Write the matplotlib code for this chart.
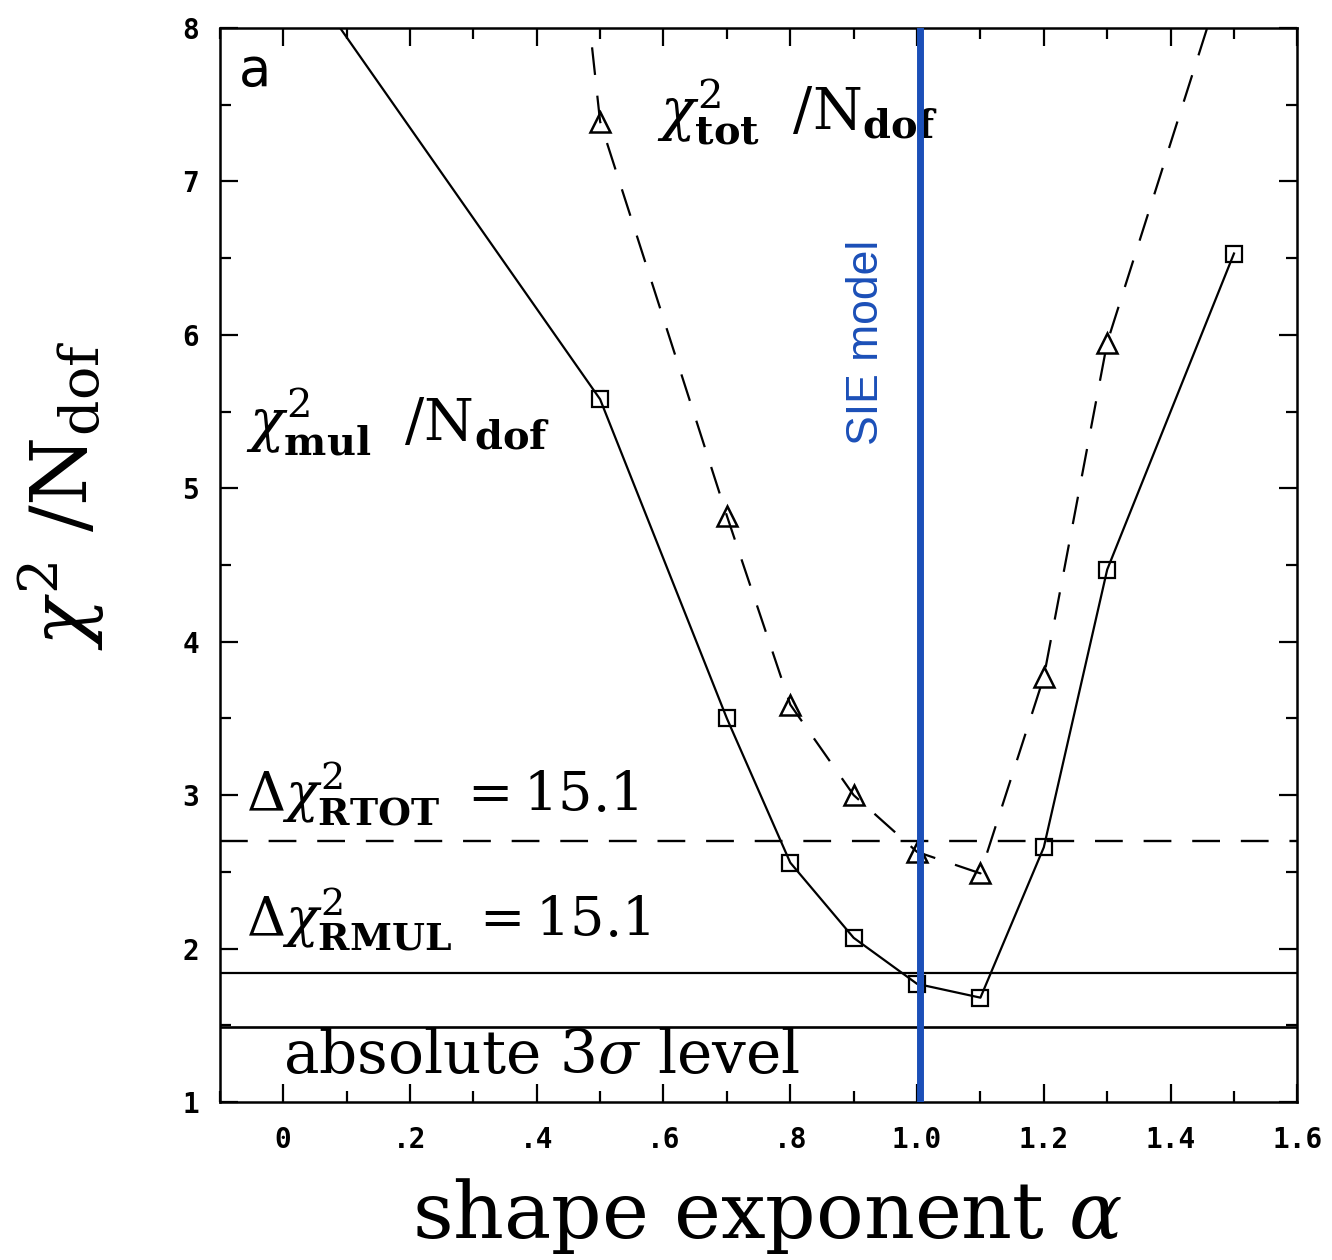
import numpy as np
import matplotlib
matplotlib.use('Agg')
import matplotlib.pyplot as plt

# chi^2 per dof vs shape exponent alpha
alpha_mul = [0.0, 0.5, 0.7, 0.8, 0.9, 1.0, 1.1, 1.2, 1.3, 1.5]
chi_mul = [8.53, 5.58, 3.50, 2.56, 2.07, 1.77, 1.68, 2.66, 4.47, 6.53]

alpha_tot = [0.4, 0.5, 0.7, 0.8, 0.9, 1.0, 1.1, 1.2, 1.3, 1.5]
chi_tot = [11.2, 7.39, 4.82, 3.59, 3.00, 2.63, 2.49, 3.77, 5.95, 8.55]

level_rtot = 2.70   # dashed horizontal
level_rmul = 1.84   # solid horizontal
level_abs = 1.49    # absolute 3 sigma
sie_alpha = 1.005

xticks = [0.0, 0.2, 0.4, 0.6, 0.8, 1.0, 1.2, 1.4, 1.6]
xticklabels = ['0', '.2', '.4', '.6', '.8', '1.0', '1.2', '1.4', '1.6']
yticks = [1, 2, 3, 4, 5, 6, 7, 8]

plt.rcParams['mathtext.fontset'] = 'dejavuserif'
plt.rcParams['font.family'] = ['DejaVu Serif']
plt.rcParams['lines.scale_dashes'] = False

fig = plt.figure(figsize=(13.32, 12.6), dpi=100)
ax = fig.add_axes([0.165, 0.1254, 0.809, 0.8524])

dash = (20, 15)
ax.plot(alpha_mul, chi_mul, color='black', lw=1.6, marker='s', ms=12,
        mfc='none', mec='black', mew=1.6)
ax.plot(alpha_tot, chi_tot, color='black', lw=1.6, dashes=dash, marker='^', ms=14,
        mfc='none', mec='black', mew=1.8)

ax.axhline(level_rtot, color='black', lw=1.7, dashes=dash)
ax.axhline(level_rmul, color='black', lw=1.6)
ax.axhline(level_abs, color='black', lw=1.9)

ax.axvline(sie_alpha, color='#1b4fb8', lw=5, zorder=5)
ax.text(0.92, 5.95, 'SIE model', rotation=90, color='#1b4fb8', fontsize=32,
        family='Liberation Sans', ha='center', va='center')

ax.set_xlim(-0.1, 1.6)
ax.set_ylim(1, 8)

ax.text(-0.07, 7.72, 'a', family='DejaVu Sans', fontsize=38, ha='left', va='center')
ax.text(0.59, 7.34, r'$\chi_{\mathbf{tot}}^{2}\;\ /\mathrm{N}_{\mathbf{dof}}$', fontsize=41,
        ha='left', va='baseline')
ax.text(-0.058, 5.31, r'$\chi_{\mathbf{mul}}^{2}\;\ /\mathrm{N}_{\mathbf{dof}}$', fontsize=41,
        ha='left', va='baseline')
ax.text(-0.058, 2.89, r'$\Delta\chi^{2}_{\mathbf{RTOT}}\ =15.1$', fontsize=39,
        ha='left', va='baseline')
ax.text(-0.058, 2.07, r'$\Delta\chi^{2}_{\mathbf{RMUL}}\ =15.1$', fontsize=39,
        ha='left', va='baseline')
ax.text(0.0, 1.19, r'absolute 3$\sigma$ level', fontsize=43, ha='left', va='baseline')

ax.set_xticks(xticks)
ax.set_xticklabels(xticklabels)
ax.set_xticks(np.arange(-0.1, 1.61, 0.1), minor=True)
ax.set_yticks(yticks)
ax.set_yticks(np.arange(1, 8.01, 0.5), minor=True)

ax.tick_params(which='both', direction='in', top=True, right=True, width=1.6)
ax.tick_params(which='major', length=13)
ax.tick_params(which='minor', length=8)
ax.tick_params(axis='x', which='major', pad=17)
ax.tick_params(axis='y', which='major', pad=15)
for lab in ax.get_xticklabels() + ax.get_yticklabels():
    lab.set_family('DejaVu Sans Mono')
    lab.set_fontweight('bold')
    lab.set_fontsize(20)
for sp in ax.spines.values():
    sp.set_linewidth(1.8)

ax.set_xlabel(r'shape exponent $\alpha$', fontsize=57)
ax.xaxis.label.set_va('baseline')
ax.xaxis.set_label_coords(0.508, -0.127)
ax.set_ylabel(r'$\chi^{2}\ /\mathrm{N}_{\mathrm{dof}}$', fontsize=57)
ax.yaxis.set_label_coords(-0.106, 0.565)

fig.savefig('out.png', dpi=100)
